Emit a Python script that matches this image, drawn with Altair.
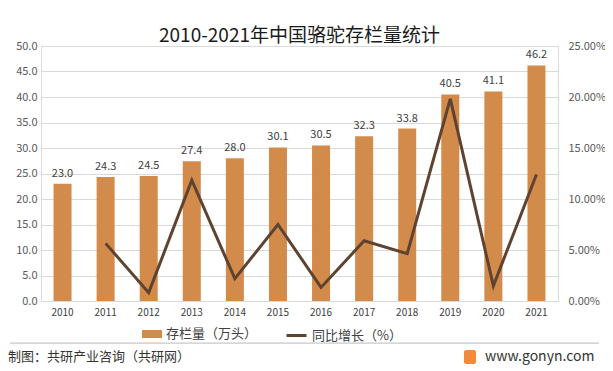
import altair as alt
import pandas as pd

years = ["2010", "2011", "2012", "2013", "2014", "2015", "2016", "2017", "2018", "2019", "2020", "2021"]
stock = [23.0, 24.3, 24.5, 27.4, 28.0, 30.1, 30.5, 32.3, 33.8, 40.5, 41.1, 46.2]
growth = [None, 0.0565, 0.0082, 0.1184, 0.0219, 0.0750, 0.0133, 0.0590, 0.0464, 0.1982, 0.0148, 0.1241]

BAR = "#D38B4B"
LINE = "#5E4330"
FONT = "Microsoft YaHei, Noto Sans CJK SC, sans-serif"

df = pd.DataFrame({"year": years, "stock": stock, "growth": growth,
                   "s1": "存栏量（万头）", "s2": "同比增长（%）"})

base = alt.Chart(df)
x = alt.X("year:O", title=None,
          axis=alt.Axis(labelAngle=0, ticks=False, domain=False, labelColor="#404040",
                        labelFontSize=10, labelPadding=6, labelFont=FONT),
          scale=alt.Scale(paddingInner=0.58, paddingOuter=0.29))

bars = base.mark_bar(size=18).encode(
    x=x,
    y=alt.Y("stock:Q", title=None, scale=alt.Scale(domain=[0, 50]),
            axis=alt.Axis(orient="left", tickCount=10, format=".1f", ticks=False, domain=False,
                          gridColor="#D9D9D9", labelColor="#595959", labelFontSize=11,
                          labelPadding=4, labelFont=FONT)),
    fill=alt.Fill("s1:N", scale=alt.Scale(range=[BAR]),
                  legend=alt.Legend(title=None, orient="none", legendX=101, legendY=278,
                                    symbolType="M-1,-0.4H1V0.4H-1Z", symbolSize=400,
                                    symbolStrokeWidth=0, labelFontSize=13, labelColor="#404040",
                                    labelFont=FONT)),
)
labels = base.mark_text(dy=-10, fontSize=11, color="#404040", font=FONT).encode(
    x=x, y=alt.Y("stock:Q"), text=alt.Text("stock:Q", format=".1f"))

left = alt.layer(bars, labels)

line = base.mark_line(strokeWidth=3).encode(
    x=x,
    y=alt.Y("growth:Q", title=None, scale=alt.Scale(domain=[0, 0.25]),
            axis=alt.Axis(orient="right", tickCount=5, format=".2%", ticks=False, domain=False,
                          grid=False, labelColor="#595959", labelFontSize=11, labelPadding=10,
                          labelFont=FONT)),
    stroke=alt.Stroke("s2:N", scale=alt.Scale(range=[LINE]),
                      legend=alt.Legend(title=None, orient="none", legendX=244, legendY=278,
                                        symbolType="stroke", symbolStrokeWidth=3, symbolSize=400,
                                        labelFontSize=13, labelColor="#404040", labelFont=FONT)),
)

foot_df = pd.DataFrame({"t": ["制图：共研产业咨询（共研网）"]})
foot = alt.Chart(foot_df).mark_text(align="left", baseline="middle", fontSize=13,
                                    color="#333333", font=FONT).encode(
    x=alt.value(-33), y=alt.value(311), text="t:N")
site_df = pd.DataFrame({"t": ["www.gonyn.com"]})
site = alt.Chart(site_df).mark_text(align="left", baseline="middle", fontSize=14,
                                    color="#333333", font=FONT).encode(
    x=alt.value(444), y=alt.value(311), text="t:N")
logo = alt.Chart(site_df).mark_rect(color="#F08A3C", cornerRadius=2).encode(
    x=alt.value(423), x2=alt.value(435), y=alt.value(304), y2=alt.value(318))
sep_df = pd.DataFrame({"k": ["sep"]})
sep = alt.Chart(sep_df).mark_text(align="left", baseline="middle", fontSize=1, color="#C8C8C8").encode(
    x=alt.value(0), y=alt.value(297), text="k:N")
sep2 = alt.Chart(sep_df).mark_rect(color="#C8C8C8", width=589, height=1.2).encode(
    x=alt.value(263.5), y=alt.value(297.2))

chart = alt.layer(left, line, foot, site, logo, sep2).resolve_scale(
    y="independent", fill="independent", stroke="independent"
).properties(
    width=517, height=255,
    autosize=alt.AutoSizeParams(type="none"),
    padding={"left": 33, "top": 38, "right": 47, "bottom": 66},
    title=alt.Title("2010-2021年中国骆驼存栏量统计", fontSize=19, fontWeight="normal",
                    color="#1a1a1a", font=FONT, offset=-6, anchor="middle"),
).configure_view(stroke=None).configure(background="white")

chart.save("out.html", embed_options={"renderer": "svg", "actions": False})
